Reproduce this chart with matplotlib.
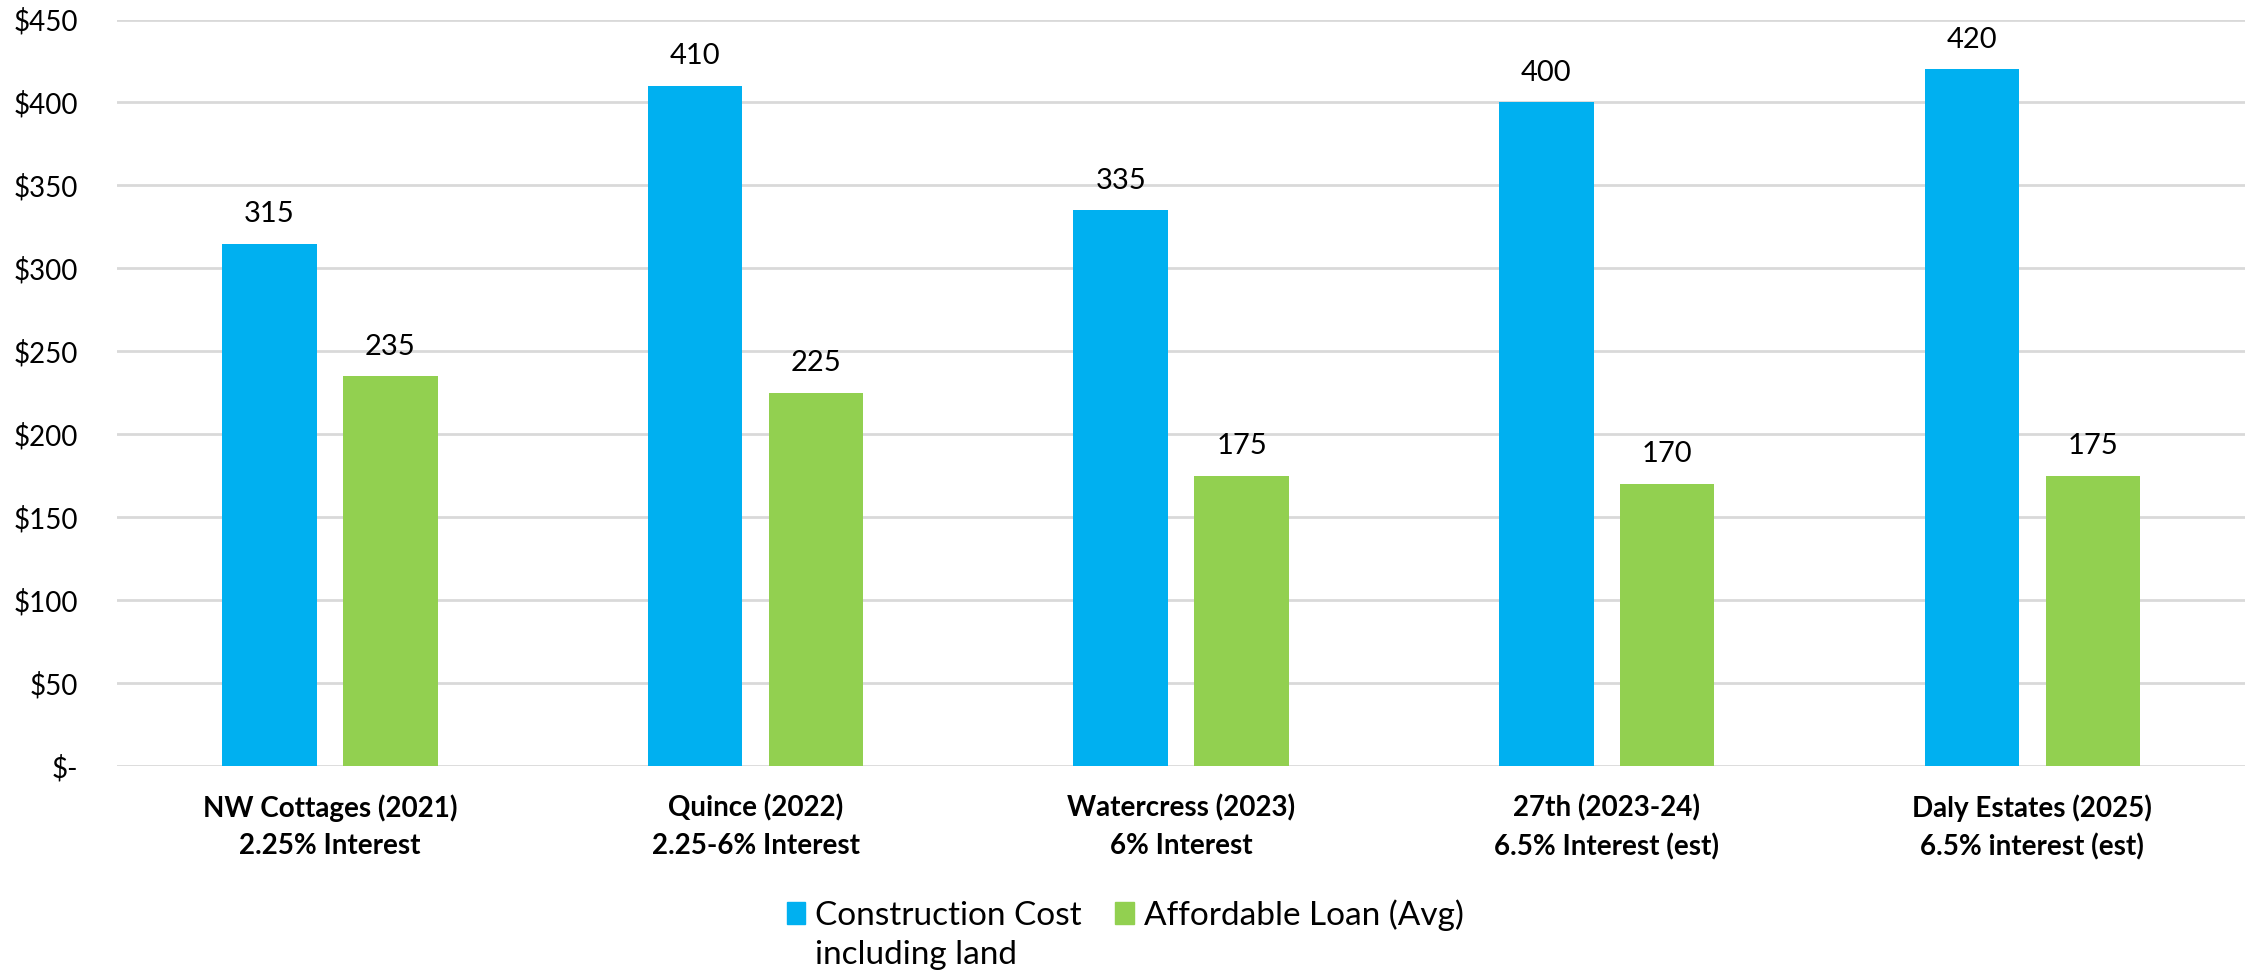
import numpy as np
import matplotlib
matplotlib.use("Agg")
from matplotlib import pyplot as plt
from matplotlib.patches import Patch

# Data
projects = ["NW Cottages (2021)\n2.25% Interest",
            "Quince (2022)\n2.25-6% Interest",
            "Watercress (2023)\n6% Interest",
            "27th (2023-24)\n6.5% Interest (est)",
            "Daly Estates (2025)\n6.5% interest (est)"]
construction_cost = [315, 410, 335, 400, 420]
affordable_loan = [235, 225, 175, 170, 175]
y_ticks = [0, 50, 100, 150, 200, 250, 300, 350, 400, 450]

blue = "#00B0F0"
green = "#92D050"

plt.rcParams['font.family'] = ['Lato', 'DejaVu Sans']

W, H = 2252, 976
fig = plt.figure(figsize=(W / 100, H / 100), dpi=100)
ax = fig.add_axes([0.052, 0.215, 0.945, 0.765])

x = np.arange(len(projects))
offset = 0.142
width = 0.222

b1 = ax.bar(x - offset, construction_cost, width, color=blue, zorder=3)
b2 = ax.bar(x + offset, affordable_loan, width, color=green, zorder=3)

for bars in (b1, b2):
    ax.bar_label(bars, padding=12, fontsize=21, color="#000000")

ax.set_xlim(-0.5, len(projects) - 0.5)
ax.set_ylim(0, 450)
ax.set_yticks(y_ticks)
ax.set_yticklabels(["$" + str(v) if v else "$-" for v in y_ticks], fontsize=20)
ax.set_xticks(x)
ax.set_xticklabels(projects, fontsize=20, fontweight="bold", linespacing=1.55)
ax.tick_params(length=0)
ax.tick_params(axis='y', pad=28)
ax.tick_params(axis='x', pad=20)

ax.yaxis.grid(True, color="#D9D9D9", linewidth=2, zorder=0)
for s in ax.spines.values():
    s.set_visible(False)

# Legend: handle lines up with the first line of the two-line label
handles = [Patch(color=blue), Patch(color=green)]
leg = fig.legend(handles, ["Construction Cost", "Affordable Loan (Avg)"],
                 loc="center left", bbox_to_anchor=(787 / W, 1 - 915 / H), ncol=2,
                 frameon=False, fontsize=24, handlelength=0.55, handleheight=0.6,
                 handletextpad=0.3, columnspacing=1.0, borderpad=0, borderaxespad=0)

fig.canvas.draw()
bb = leg.get_texts()[0].get_window_extent()
fig.text(bb.x0 / W, 1 - 955 / H, "including land", fontsize=24,
         ha="left", va="center")

fig.savefig("out.png", dpi=100)
